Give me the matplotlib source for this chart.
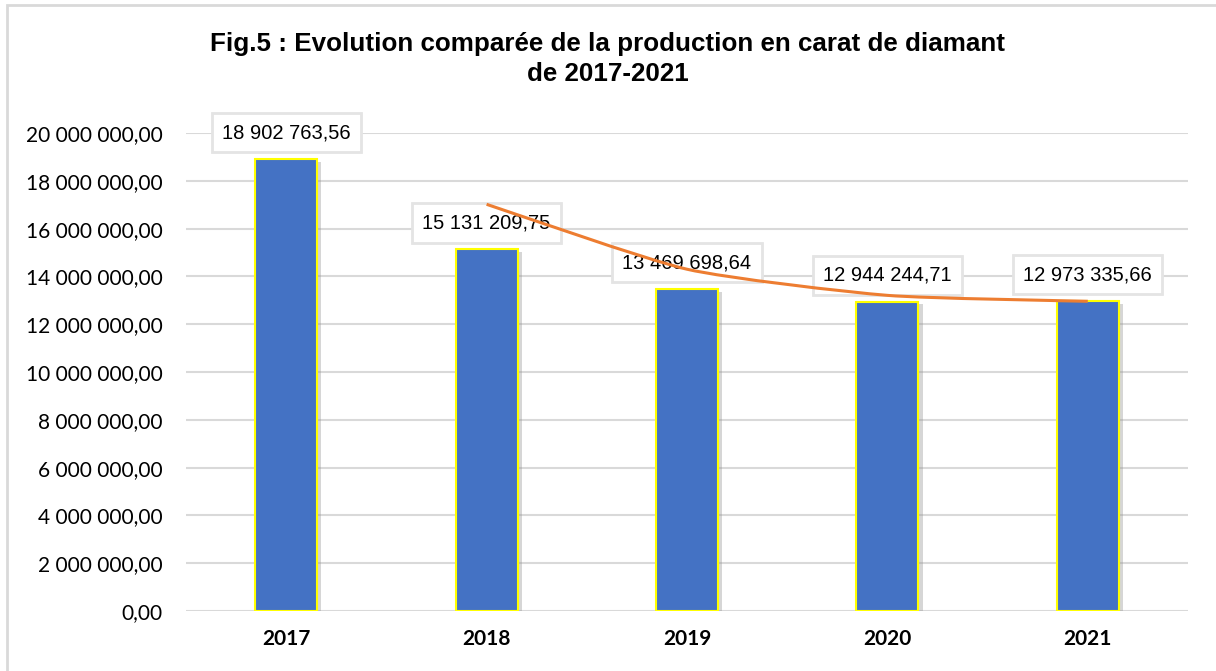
import numpy as np
import matplotlib
matplotlib.use("Agg")
import matplotlib.pyplot as plt
import matplotlib.patheffects as pe
from matplotlib.path import Path
from matplotlib.patches import PathPatch, Rectangle

# data
years = ["2017", "2018", "2019", "2020", "2021"]
production = [18902763.56, 15131209.75, 13469698.64, 12944244.71, 12973335.66]
y_ticks = [0, 2e6, 4e6, 6e6, 8e6, 10e6, 12e6, 14e6, 16e6, 18e6, 20e6]


def fr_number(v):
    # french style: space thousands, comma decimals
    return f"{v:,.2f}".replace(",", " ").replace(".", ",")


fig = plt.figure(figsize=(12.16, 6.71), dpi=100)
ax = fig.add_axes([186 / 1216, 1 - 611 / 671, (1188 - 186) / 1216, (611 - 133) / 671])

x = np.arange(len(years))
bars = ax.bar(x, production, width=0.31, color="#4472C4", edgecolor="#FFFF00",
              linewidth=1.5, zorder=3)
for b in bars:
    b.set_path_effects([pe.SimplePatchShadow(offset=(3, -2), shadow_rgbFace="#8c8c8c", alpha=0.35),
                        pe.Normal()])

# two-period moving average trendline, lightly smoothed like excel
ma = [(production[i - 1] + production[i]) / 2 for i in range(1, len(production))]
px = x[1:].astype(float)
pts = np.column_stack([px, ma])
ext = np.vstack([pts[0], pts, pts[-1]])
verts = [tuple(pts[0])]
codes = [Path.MOVETO]
for i in range(len(pts) - 1):
    p0, p1, p2, p3 = ext[i], ext[i + 1], ext[i + 2], ext[i + 3]
    c1 = p1 + (p2 - p0) / 10
    c2 = p2 - (p3 - p1) / 10
    verts += [tuple(c1), tuple(c2), tuple(p2)]
    codes += [Path.CURVE4] * 3
ax.add_patch(PathPatch(Path(verts, codes), facecolor="none", edgecolor="#ED7D31",
                       linewidth=2.2, zorder=5, capstyle="butt"))

# data labels
for xi, v in zip(x, production):
    ax.annotate(fr_number(v), xy=(xi, v), xytext=(0, 19), textcoords="offset points",
                ha="center", va="center", fontsize=14.5, zorder=4,
                family=["Liberation Sans Narrow", "Liberation Sans"],
                bbox=dict(boxstyle="square,pad=0.5", fc="white", ec="#E4E4E4", lw=2))

ax.set_xlim(-0.5, len(years) - 0.5)
ax.set_ylim(0, 20e6)
ax.set_yticks(y_ticks)
ax.set_yticklabels([fr_number(t) for t in y_ticks], fontsize=15, family=["Lato", "DejaVu Sans"])
ax.set_xticks(x)
ax.set_xticklabels(years, fontsize=15, fontweight="bold", family=["Lato", "DejaVu Sans"])
ax.tick_params(axis="y", length=0, pad=17)
ax.tick_params(axis="x", length=0, pad=13)
ax.grid(axis="y", color="#D9D9D9", linewidth=1.5, zorder=0)
ax.set_axisbelow(True)
for s in ax.spines.values():
    s.set_visible(False)

fig.text(608 / 1216, 1 - 59 / 671, "Fig.5 : Evolution comparée de la production en carat de diamant\nde 2017-2021",
         ha="center", va="center", multialignment="center", fontsize=18.7, fontweight="bold",
         family=["Liberation Sans Narrow", "Liberation Sans"], linespacing=1.3)

# outer chart frame
fig.add_artist(Rectangle((7 / 1216, -0.1), 1.2, 1.1 - 5 / 671, transform=fig.transFigure,
                         fill=False, edgecolor="#D9D9D9", linewidth=2))

fig.savefig("out.png", dpi=100)
